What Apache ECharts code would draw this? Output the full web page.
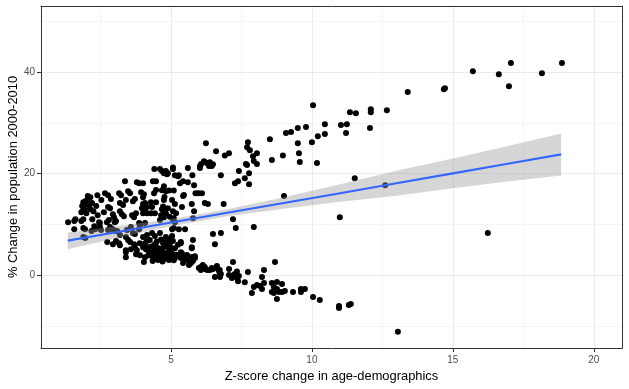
<!DOCTYPE html>
<html>
<head>
<meta charset="utf-8">
<script src="https://cdn.jsdelivr.net/npm/echarts@6/dist/echarts.min.js"></script>
<style>
html,body{margin:0;padding:0;background:#fff;}
#c{width:629px;height:389px;}
</style>
</head>
<body>
<div id="c"></div>
<script>
// ---- data ----
const xTickValues = [5, 10, 15, 20];
const xMinorValues = [2.5, 7.5, 12.5, 17.5];
const yTickValues = [0, 20, 40];
const yMinorValues = [-10, 10, 30, 50];

// fitted smooth line and its confidence band
const fitX = [1.34, 3, 5, 7, 9, 11, 13, 15, 17, 18.84];
const fitY = [6.8, 8.4, 10.35, 12.3, 14.2, 16.15, 18.1, 20.05, 22.0, 23.8];
const bandLow = [5.1, 7.2, 9.65, 11.6, 13.1, 14.45, 15.65, 17.1, 18.5, 19.65];
const bandHigh = [8.4, 9.6, 11.05, 13.0, 15.35, 17.9, 20.55, 23.0, 25.5, 27.9];

// scatter points [z-score change, % change]
const points = [
[10.04,33.5],[9.79,29.2],[10.46,29.75],[11.03,29.6],[11.24,29.75],[11.35,32.1],[11.56,31.9],
[12.09,32.7],[12.09,32.1],[12.06,29.0],[12.66,32.5],[13.4,36.1],[14.68,36.65],[14.72,36.85],
[15.71,40.2],[16.63,39.6],[17.06,41.8],[16.99,37.25],[18.16,39.8],[18.87,41.8],[10.0,26.2],
[10.21,27.4],[10.46,27.8],[11.21,28.0],[10.18,22.1],[11.52,19.1],[12.6,17.7],[10.99,11.4],
[16.24,8.3],[6.24,26.0],[6.6,24.4],[6.91,23.6],[7.06,24.0],[7.73,26.2],[7.7,25.2],[7.8,24.6],
[7.91,23.45],[8.05,24.0],[8.51,26.8],[9.08,28.0],[9.26,28.2],[9.5,29.0],[9.5,26.0],[8.97,23.6],
[9.54,24.0],[9.57,22.3],[8.58,22.7],[7.94,22.5],[8.05,21.9],[7.66,21.9],[7.7,21.7],[7.62,19.1],
[7.77,20.1],[7.77,17.9],[7.41,20.5],[7.27,18.1],[7.38,18.5],[6.77,19.7],[9.01,15.6],[6.87,14.0],
[7.2,11.0],[7.3,9.3],[7.94,9.46],[6.77,8.3],[7.2,2.56],[8.69,2.56],[8.3,0.99],[6.73,1.0],
[6.73,0.0],[7.06,1.18],[7.06,0.0],[7.16,-0.6],[7.27,0.2],[7.34,0.7],[7.38,-1.2],[7.41,-0.2],
[7.62,-1.4],[7.73,0.6],[7.87,-3.55],[7.94,-2.36],[8.05,-1.97],[8.16,-2.17],[8.23,-0.4],
[8.23,-2.76],[8.3,-1.58],[8.58,-1.58],[8.58,-3.35],[8.65,-2.36],[8.65,-3.55],[8.76,-1.38],
[8.76,-2.76],[8.83,-3.35],[8.94,-1.77],[8.94,-3.35],[9.04,-3.15],[8.76,-4.7],[9.33,-3.35],
[9.61,-2.76],[9.61,-3.35],[9.75,-2.76],[10.04,-4.33],[10.28,-4.93],[10.96,-6.1],[10.96,-6.5],
[11.31,-5.9],[11.38,-5.7],[13.05,-11.2],
[6.17,22.46],[6.28,22.07],[6.38,22.27],[6.35,21.5],[6.45,21.5],[6.49,21.87],[6.03,21.5],
[6.03,21.1],[5.76,19.7],[5.87,16.16],[5.97,16.16],[5.6,21.1],[5.6,18.3],[5.82,17.7],[5.74,14.0],
[5.82,12.6],[6.1,16.16],[6.2,14.2],[6.31,14.0],[5.39,13.4],[5.43,15.6],[5.46,15.8],[4.93,16.7],
[5.1,16.7],[4.77,15.4],[4.47,16.8],[4.72,13.5],[4.68,13.0],[4.89,13.2],[4.82,12.2],[5.14,14.0],
[5.07,12.6],[5.18,12.2],[5.1,11.2],[4.96,11.5],[4.41,20.9],[4.61,20.9],[4.82,20.5],[4.89,20.1],
[5.07,20.9],[5.07,21.2],[4.36,18.5],[4.47,18.5],[5.25,19.5],[5.32,18.1],[5.43,18.5],[4.75,17.5],
[6.56,6.1],[6.13,1.97],[6.2,1.58],[6.06,0.99],[6.28,0.99],[6.38,0.99],[6.49,1.18],[6.63,1.38],
[6.7,0.79],[6.77,0.2],[6.56,-0.4],[6.74,-0.4],
[1.35,10.44],[1.57,10.64],[1.61,11.03],[1.57,9.06],[1.82,10.64],[1.89,11.03],[1.89,9.26],
[1.82,12.4],[1.89,14.38],[1.96,14.58],[2.03,14.78],[2.07,15.17],[2.14,15.37],[2.0,14.0],
[1.93,12.8],[2.1,13.4],[2.14,13.0],[2.21,11.03],[2.28,9.65],[1.89,7.5],[1.96,7.3],[2.18,8.67],
[2.39,15.76],[2.53,14.78],[2.45,10.44],[2.48,10.25],[2.66,16.16],[2.77,15.76],[2.62,12.4],
[2.77,13.4],[2.84,13.2],[2.87,14.98],[2.73,10.44],[2.8,10.84],[2.94,12.0],[2.98,11.4],
[3.01,10.44],[3.05,10.64],[3.09,8.67],[3.16,16.16],[3.23,15.76],[3.19,14.2],[3.3,13.8],
[3.37,18.5],[3.4,14.78],[3.48,16.55],[3.55,16.16],[3.19,12.6],[3.26,12.0],[3.33,11.6],
[3.05,6.7],[3.16,6.3],[3.19,5.9],[3.4,7.5],[3.48,6.9],[3.55,6.5],[3.4,4.9],[3.4,3.5],
[3.58,5.1],[3.72,5.5],[3.79,4.9],[3.69,6.1],[3.65,8.3],[3.62,11.8],[3.69,11.4],[3.76,12.2],
[3.65,14.58],[3.72,14.98],[3.79,18.3],[3.87,18.1],[3.97,13.2],[4.01,14.0],[4.08,12.4],
[4.15,13.4],[3.94,16.35],[4.04,15.96],[4.08,10.25],[3.87,10.25],[3.9,9.85],[3.76,4.1],
[3.9,3.9],[4.08,3.5],[4.11,5.1],[4.22,5.5],
[4.68,20.5],[4.75,20.1],[4.86,19.9],[5.14,19.7],[5.28,19.7],[6.07,21.9],[6.2,22.3],[4.01,18.1],
[4.82,16.55],[4.68,16.75],[4.4,16.16],[4.01,15.37],[5.04,14.78],[4.75,14.78],[4.29,14.38],
[4.47,14.38],[4.72,12.8],[4.65,11.8],[4.75,11.4],[4.08,14.2],[4.01,13.4],[4.08,13.0],
[4.15,12.2],[4.01,12.2],[4.33,13.4],[4.29,12.2],[4.43,12.2],[5.07,10.84],[5.14,10.44],
[5.1,9.26],[5.04,9.06],[4.61,10.84],[3.89,10.05],[5.78,11.23],[6.49,8.08],[4.01,7.5],
[4.15,7.9],[4.33,8.3],[4.43,7.7],[4.61,8.3],[4.82,7.5],[5.04,7.7],[4.72,6.3],[4.86,5.7],
[4.96,5.1],[5.07,6.7],[5.14,5.3],[5.35,6.5],[5.35,4.5],[5.14,3.35],[5.35,3.35],[5.74,5.3],
[5.74,3.55],[5.43,2.36],[5.57,2.96],[5.64,1.97],[5.71,2.36],[5.78,2.76],[3.89,6.3],[4.08,6.3],
[4.15,6.7],[4.01,5.5],[4.15,5.3],[4.22,4.5],[4.33,5.7],[4.4,4.9],[4.43,6.1],[4.5,5.5],
[4.61,4.1],[4.33,3.7],[4.54,2.96],[4.75,3.15],[4.89,3.9],[4.93,2.96],[4.04,2.56],
[1.95,9.06],[2.31,9.06],[2.48,9.46],[2.52,8.87],[2.77,8.87],[2.84,9.46],[2.94,9.06],[3.01,8.67],
[3.19,7.9],[3.44,8.87],[3.58,9.46],[3.72,8.08],[3.87,9.06],[2.74,6.5],[2.94,6.1],[3.4,4.5],
[5.28,9.06],[5.5,9.06],[5.78,6.9],[5.74,5.5],[5.85,3.7],[5.99,1.38],[6.06,1.58],[6.2,1.18],
[6.45,1.38],[6.63,1.77],[7.23,0.0],[7.34,-0.6],[5.45,3.35],[5.57,3.94],[5.85,3.35],[5.35,6.3],
[5.39,4.3],
[4.3,4.3],[4.45,3.3],[4.55,4.5],[4.6,5.2],[4.65,3.6],[4.7,4.7],[4.75,5.6],[4.8,4.2],[4.85,3.3],
[4.9,4.6],[4.95,6.2],[5.0,3.6],[5.0,5.4],[5.05,4.2],[5.1,2.9],[4.5,6.6],[4.65,7.0],[4.25,6.9],
[4.2,3.9],[4.35,2.8],[4.7,2.7],[4.85,6.6],[4.45,4.1],[4.6,3.1],[5.2,4.0],[5.25,6.0],[4.9,7.1],
[1.85,13.6],[1.9,13.0],[2.0,12.2],[2.05,15.6],[2.2,14.2],[2.25,12.6],[2.35,13.6],[2.4,11.8]
];

const xMin = 0.39, xMax = 21.0, yMin = -14.38, yMax = 53.06;
const FONT = '"Liberation Sans", Arial, sans-serif';
const BORDER = {show: true, onZero: false, lineStyle: {color: '#333333', width: 1}};

const chart = echarts.init(document.getElementById('c'), null, {renderer: 'canvas'});

chart.setOption({
  animation: false,
  backgroundColor: '#ffffff',
  grid: {left: 41, right: 7, top: 6, bottom: 41, show: false, containLabel: false, outerBoundsMode: 'none'},
  xAxis: [
    {
      type: 'value', min: xMin, max: xMax, position: 'bottom',
      name: 'Z-score change in age-demographics', nameLocation: 'middle', nameGap: 19.5,
      nameTextStyle: {color: '#000', fontSize: 12.9, fontFamily: FONT},
      axisLine: BORDER,
      axisTick: {show: true, customValues: xTickValues, length: 4, lineStyle: {color: '#333333', width: 1}},
      axisLabel: {show: true, customValues: xTickValues, color: '#4D4D4D', fontSize: 10, fontFamily: FONT, margin: 7.5},
      splitLine: {show: true, lineStyle: {color: '#EBEBEB', width: 1.1}}
    },
    {
      type: 'value', min: xMin, max: xMax, position: 'top',
      axisLine: BORDER,
      axisTick: {show: false, customValues: xMinorValues},
      axisLabel: {show: false, customValues: xMinorValues},
      splitLine: {show: true, lineStyle: {color: '#EEEEEE', width: 0.6}}
    }
  ],
  yAxis: [
    {
      type: 'value', min: yMin, max: yMax, position: 'left',
      name: '% Change in population 2000-2010', nameLocation: 'middle', nameGap: 21,
      nameMoveOverlap: false,
      nameTextStyle: {color: '#000', fontSize: 12.9, fontFamily: FONT},
      axisLine: BORDER,
      axisTick: {show: true, customValues: yTickValues, length: 4, lineStyle: {color: '#333333', width: 1}},
      axisLabel: {show: true, customValues: yTickValues, color: '#4D4D4D', fontSize: 10, fontFamily: FONT, margin: 6},
      splitLine: {show: true, lineStyle: {color: '#EBEBEB', width: 1.1}}
    },
    {
      type: 'value', min: yMin, max: yMax, position: 'right',
      axisLine: BORDER,
      axisTick: {show: false, customValues: yMinorValues},
      axisLabel: {show: false, customValues: yMinorValues},
      splitLine: {show: true, lineStyle: {color: '#EEEEEE', width: 0.6}}
    }
  ],
  series: [
    {
      type: 'scatter', xAxisIndex: 0, yAxisIndex: 0, z: 3,
      symbol: 'circle', symbolSize: 6,
      itemStyle: {color: '#000000', opacity: 1},
      data: points,
      silent: true
    },
    {
      type: 'custom', xAxisIndex: 0, yAxisIndex: 0, z: 4, silent: true,
      data: [[fitX[0], fitY[0]]],
      renderItem: function (params, api) {
        const pts = [];
        for (let i = 0; i < fitX.length; i++) pts.push(api.coord([fitX[i], bandHigh[i]]));
        for (let i = fitX.length - 1; i >= 0; i--) pts.push(api.coord([fitX[i], bandLow[i]]));
        return {type: 'polygon', shape: {points: pts}, style: {fill: 'rgba(153,153,153,0.4)', stroke: null}};
      }
    },
    {
      type: 'line', xAxisIndex: 0, yAxisIndex: 0, z: 5, silent: true,
      showSymbol: false, symbol: 'none',
      lineStyle: {color: '#3366FF', width: 2.1},
      data: fitX.map((x, i) => [x, fitY[i]])
    }
  ]
});
</script>
</body>
</html>
